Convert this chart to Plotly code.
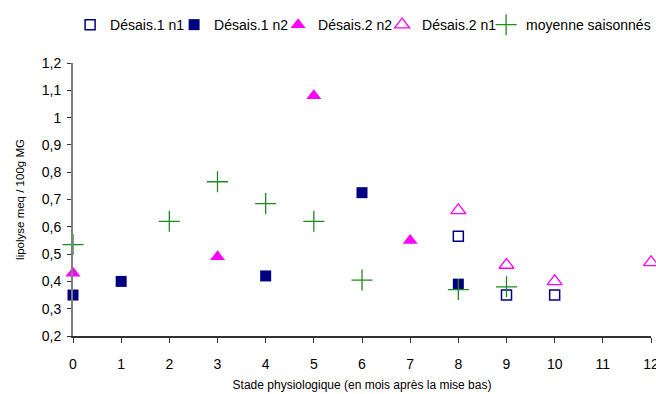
import plotly.graph_objects as go

# Data
d1n1_x = [8, 9, 10]
d1n1_y = [0.565, 0.35, 0.35]
d1n2_x = [0, 1, 4, 6, 8]
d1n2_y = [0.35, 0.40, 0.42, 0.725, 0.39]
d2n2_x = [0, 3, 5, 7]
d2n2_y = [0.43, 0.49, 1.08, 0.55]
d2n1_x = [8, 9, 10, 12]
d2n1_y = [0.66, 0.46, 0.40, 0.47]
moy_x = [0, 2, 3, 4, 5, 6, 8, 9]
moy_y = [0.535, 0.62, 0.765, 0.685, 0.62, 0.405, 0.37, 0.38]

x_ticks = list(range(0, 13))
y_tickvals = [0.2, 0.3, 0.4, 0.5, 0.6, 0.7, 0.8, 0.9, 1.0, 1.1, 1.2]
y_ticktext = ["0,2", "0,3", "0,4", "0,5", "0,6", "0,7", "0,8", "0,9", "1", "1,1", "1,2"]

NAVY = "#000080"
MAG = "#FF00FF"
GREEN = "#1E8C1E"

fig = go.Figure()
fig.add_trace(go.Scatter(x=d1n1_x, y=d1n1_y, mode="markers", name="Désais.1 n1", legendwidth=59,
                         marker=dict(symbol="square-open", size=10, color=NAVY, line=dict(width=1.5, color=NAVY))))
fig.add_trace(go.Scatter(x=d1n2_x, y=d1n2_y, mode="markers", name="Désais.1 n2", legendwidth=59,
                         marker=dict(symbol="square", size=11, color=NAVY)))
fig.add_trace(go.Scatter(x=d2n2_x, y=d2n2_y, mode="markers", name="Désais.2 n2", legendwidth=59,
                         marker=dict(symbol="triangle-up", size=13, color=MAG)))
fig.add_trace(go.Scatter(x=d2n1_x, y=d2n1_y, mode="markers", name="Désais.2 n1", legendwidth=59,
                         marker=dict(symbol="triangle-up-open", size=13, color=MAG, line=dict(width=1.3, color=MAG))))
fig.add_trace(go.Scatter(x=moy_x, y=moy_y, mode="markers", name="moyenne saisonnés", legendwidth=128,
                         marker=dict(symbol="cross-thin", size=15, color=GREEN, line=dict(width=1.3, color=GREEN))))

fig.update_traces(cliponaxis=False)

fig.update_layout(
    width=656, height=394,
    margin=dict(l=73, r=5, t=63, b=58, autoexpand=False),
    paper_bgcolor="white", plot_bgcolor="white",
    font=dict(family="Liberation Sans, Arial, sans-serif", color="black", size=14),
    showlegend=True,
    legend=dict(orientation="h", x=-0.005, xanchor="left", y=1.139, yanchor="middle",
                font=dict(size=14), itemwidth=30,
                tracegroupgap=0, bgcolor="rgba(0,0,0,0)"),
    xaxis=dict(range=[0, 12], tickvals=x_ticks, ticktext=[str(v) for v in x_ticks],
               showgrid=False, zeroline=False, showline=True, linecolor="#333333", linewidth=1.5,
               ticks="outside", ticklen=5, tickcolor="#333333", ticklabelstandoff=9,
               ticklabeloverflow="allow",
               tickfont=dict(size=14),
               title=dict(text="Stade physiologique (en mois après la mise bas)", font=dict(size=12), standoff=10)),
    yaxis=dict(range=[0.2, 1.2], tickvals=y_tickvals, ticktext=y_ticktext,
               showgrid=False, zeroline=False, showline=True, linecolor="#808080", linewidth=1.8,
               ticks="outside", ticklen=4, tickcolor="#333333", ticklabelstandoff=3,
               tickfont=dict(size=14),
               title=dict(text="lipolyse meq / 100g MG", font=dict(size=11.5), standoff=15)),
)

fig.write_html("out.html")
